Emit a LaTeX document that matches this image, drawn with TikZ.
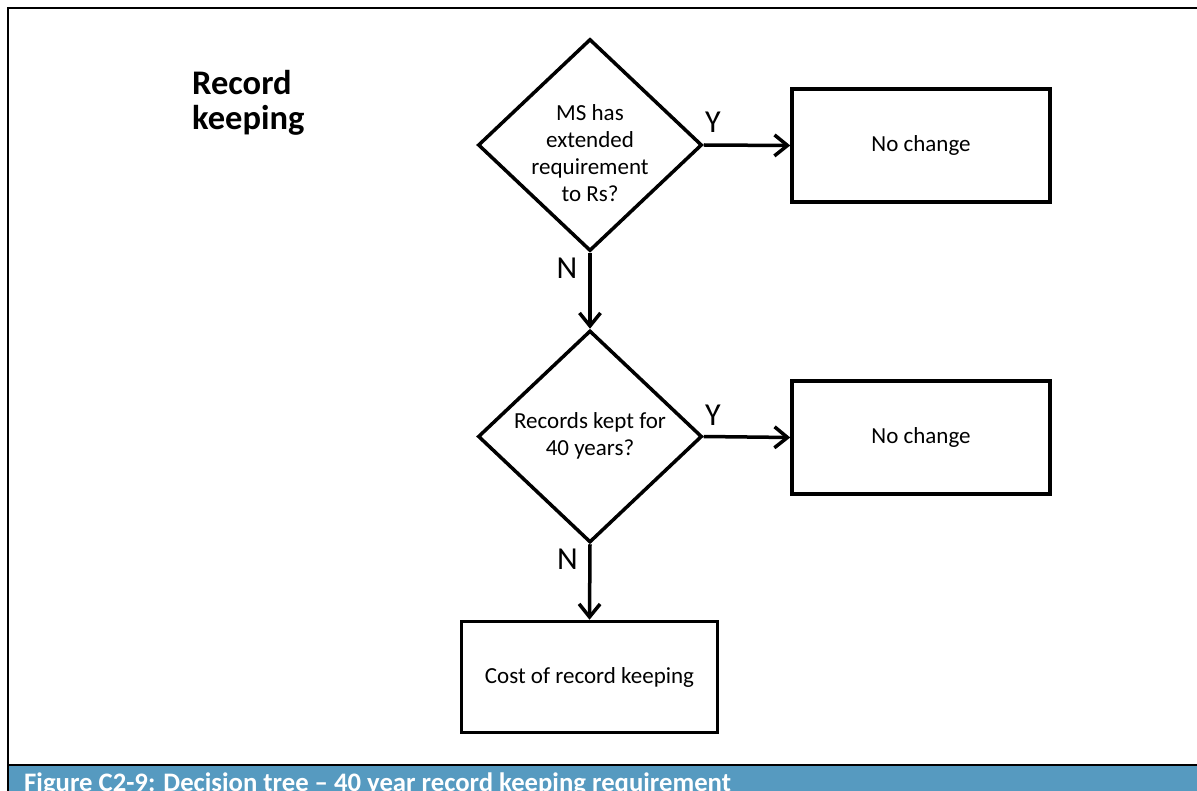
\documentclass[tikz,border=0pt]{standalone}
\usepackage{fontspec}
\setmainfont{Carlito}
\usetikzlibrary{shapes.geometric,arrows.meta}
\definecolor{capblue}{RGB}{86,154,192}
\begin{document}
\begin{tikzpicture}[x=1pt,y=-1pt,
  every node/.style={inner sep=0pt},
  frame/.style={line width=2.5pt},
  decision/.style={draw,diamond,line width=3.5pt,minimum width=224pt,minimum height=212pt,inner sep=0pt},
  qtext/.style={align=center,font=\fontsize{23}{27}\selectfont},
  outcome/.style={draw,rectangle,line width=3.5pt,font=\fontsize{23}{27}\selectfont},
  yn/.style={font=\fontsize{32}{36}\selectfont},
  flow/.style={line width=3.5pt,-{Straight Barb[length=13pt,width=21pt,line width=3.5pt]}},
]
\useasboundingbox (0,0) rectangle (1197,791);

% outer frame and caption bar
\fill[capblue] (9,766) rectangle (1197,791);
\draw[frame] (1198,8) -- (8,8) -- (8,792);
\draw[frame] (8,765) -- (1198,765);
\node[anchor=base west,text=white,font=\fontsize{26.7}{30}\selectfont\bfseries] (cap) at (24,791)
  {Figure C2-9: Decision tree -- 40 year record keeping requirement};

% heading
\node[anchor=north west,align=left,font=\fontsize{34.5}{35}\selectfont\bfseries] (title) at (192,70)
  {Record\\keeping};

% decisions
\node[decision] (q1) at (590,145) {};
\node[qtext] (q1t) at (590,153) {MS has\\extended\\requirement\\to Rs?};
\node[decision] (q2) at (590,436.5) {};
\node[qtext] (q2t) at (590,436) {Records kept for\\40 years?};

% outcomes
\node[outcome,minimum width=258pt,minimum height=113pt] (b1) at (921,145.5) {No change};
\node[outcome,minimum width=258pt,minimum height=113pt] (b2) at (921,437.5) {No change};
\node[outcome,minimum width=256pt,minimum height=111pt] (b3) at (589.5,677) {Cost of record keeping};

% connectors
\draw[flow] (q1.east) -- (b1.west);
\draw[flow] (q1.south) -- (q2.north);
\draw[flow] (q2.east) -- (b2.west);
\draw[flow] (q2.south) -- (b3.north);

% branch labels
\node[yn] (y1) at (713,122.5) {Y};
\node[yn] (n1) at (567,268) {N};
\node[yn] (y2) at (713,415) {Y};
\node[yn] (n2) at (567.5,559) {N};
\end{tikzpicture}
\end{document}
